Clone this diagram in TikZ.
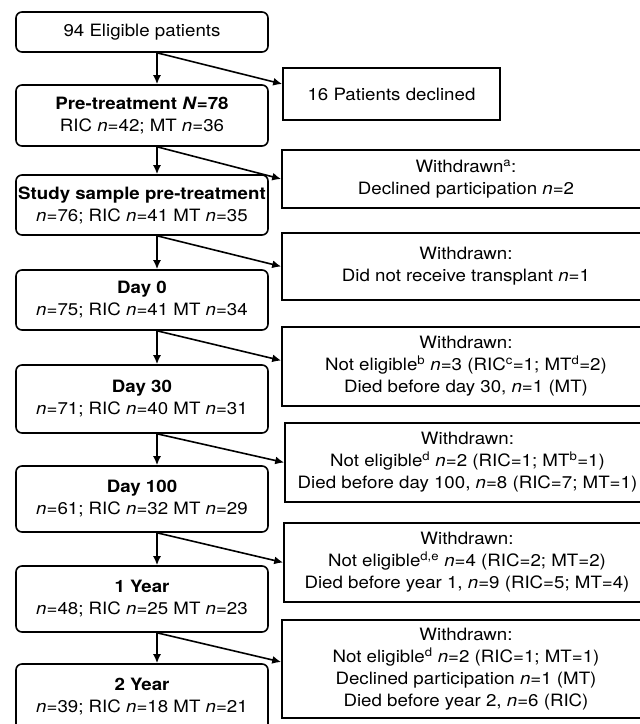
\documentclass[tikz,border=0pt]{standalone}
\usepackage{fontspec}
\setmainfont[FakeStretch=1.1]{TeX Gyre Heros}
\usetikzlibrary{arrows.meta}

\begin{document}
\begin{tikzpicture}[x=1pt,y=-1pt,
    stage/.style={draw, line width=1.6pt, rounded corners=6pt, minimum width=252pt, align=center, inner sep=0pt, font=\fontsize{17}{22}\selectfont},
    lost/.style={draw, line width=1.6pt, align=center, inner sep=0pt, font=\fontsize{17}{22}\selectfont},
    arr/.style={line width=1.6pt, -{Latex[length=9pt,width=8pt]}}]
\useasboundingbox (0,0) rectangle (640,724);

% patients kept at each stage
\node[stage, minimum height=40pt] (elig) at (142,32) {94 Eligible patients};
\node[stage, minimum height=61pt] (pre) at (142,115.5) {\textbf{Pre-treatment \textit{N}=78}\\RIC \textit{n}=42; MT \textit{n}=36};
\node[stage, minimum height=60pt] (study) at (142,205) {\textbf{Study sample pre-treatment}\\\textit{n}=76; RIC \textit{n}=41 MT \textit{n}=35};
\node[stage, minimum height=60pt] (day0) at (142,300) {\textbf{Day 0}\\\textit{n}=75; RIC \textit{n}=41 MT \textit{n}=34};
\node[stage, minimum height=68pt] (day30) at (142,399) {\textbf{Day 30}\\\textit{n}=71; RIC \textit{n}=40 MT \textit{n}=31};
\node[stage, minimum height=66pt] (day100) at (142,499) {\textbf{Day 100}\\\textit{n}=61; RIC \textit{n}=32 MT \textit{n}=29};
\node[stage, minimum height=66pt] (year1) at (142,599) {\textbf{1 Year}\\\textit{n}=48; RIC \textit{n}=25 MT \textit{n}=23};
\node[stage, minimum height=66pt] (year2) at (142,697) {\textbf{2 Year}\\\textit{n}=39; RIC \textit{n}=18 MT \textit{n}=21};

% patients lost
\node[lost, minimum width=217pt, minimum height=52pt] (dec) at (391.5,94) {16 Patients declined};
\node[lost, minimum width=368pt, minimum height=58pt] (wd1) at (466,179) {Withdrawn\textsuperscript{a}:\\Declined participation \textit{n}=2};
\node[lost, minimum width=368pt, minimum height=67pt] (wd2) at (466,266.5) {Withdrawn:\\Did not receive transplant \textit{n}=1};
\node[lost, minimum width=368pt, minimum height=79pt] (wd3) at (466,366.5) {Withdrawn:\\Not eligible\textsuperscript{b} \textit{n}=3 (RIC\textsuperscript{c}=1; MT\textsuperscript{d}=2)\\Died before day 30, \textit{n}=1 (MT)};
\node[lost, minimum width=365pt, minimum height=79pt] (wd4) at (467.5,462.5) {Withdrawn:\\Not eligible\textsuperscript{d} \textit{n}=2 (RIC=1; MT\textsuperscript{b}=1)\\Died before day 100, \textit{n}=8 (RIC=7; MT=1)};
\node[lost, minimum width=366pt, minimum height=79pt] (wd5) at (467,562.5) {Withdrawn:\\Not eligible\textsuperscript{d,e} \textit{n}=4 (RIC=2; MT=2)\\Died before year 1, \textit{n}=9 (RIC=5; MT=4)};
\node[lost, minimum width=368pt, minimum height=98pt] (wd6) at (466,669) {Withdrawn:\\Not eligible\textsuperscript{d} \textit{n}=2 (RIC=1; MT=1)\\Declined participation \textit{n}=1 (MT)\\Died before year 2, \textit{n}=6 (RIC)};

\foreach \a/\b/\c/\s in {elig/pre/dec/10, pre/study/wd1/0, study/day0/wd2/0, day0/day30/wd3/6, day30/day100/wd4/0, day100/year1/wd5/0, year1/year2/wd6/7}{
    \draw[arr] ([xshift=15pt]\a.south) -- ([xshift=15pt]\b.north);
    \draw[arr] ([xshift=15pt]\a.south) -- ([yshift=\s pt]\c.west);
}

\end{tikzpicture}
\end{document}
